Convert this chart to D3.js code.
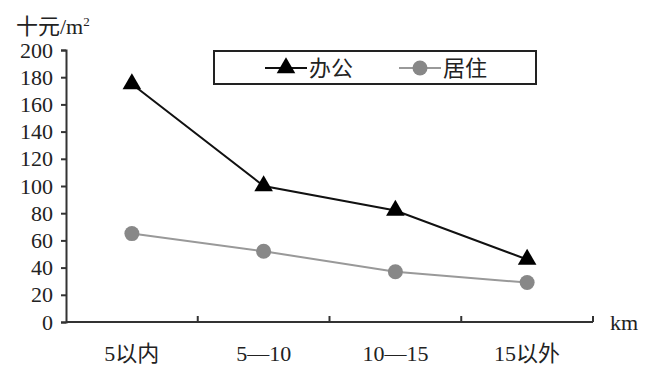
<!DOCTYPE html>
<html>
<head>
<meta charset="utf-8">
<script src="https://cdn.jsdelivr.net/npm/d3@7"></script>
<style>
  body { margin: 0; background: #fff; }
  text { font-family: "Liberation Serif", "Noto Sans CJK SC", serif; fill: #222; }
</style>
</head>
<body>
<svg width="653" height="373"></svg>
<script>
var categories = ["5以内", "5—10", "10—15", "15以外"];
var office = [175, 100, 82, 46];
var residential = [65, 52, 37, 29];
var yTicks = [0, 20, 40, 60, 80, 100, 120, 140, 160, 180, 200];

var svg = d3.select("svg");
var margin = { left: 66, right: 60, top: 50, bottom: 51 };
var width = 653 - margin.left - margin.right,
    height = 373 - margin.top - margin.bottom;

var g = svg.append("g")
    .attr("transform", "translate(" + margin.left + "," + margin.top + ")");

var x = d3.scaleBand().domain(categories).range([0, width]);
var y = d3.scaleLinear().domain([0, 200]).range([height, 0]);

// y axis
var yAxis = g.append("g")
    .call(d3.axisLeft(y).tickValues(yTicks).tickSize(5).tickPadding(8));
yAxis.select(".domain").attr("stroke", "#333").attr("stroke-width", 2);
yAxis.selectAll(".tick line").attr("stroke", "#333").attr("stroke-width", 2);
yAxis.selectAll(".tick text")
    .attr("font-size", 22)
    .attr("font-family", "Liberation Serif")
    .attr("fill", "#222");

// x axis: ticks at category boundaries, pointing up
var xAxis = g.append("g").attr("transform", "translate(0," + height + ")");
xAxis.append("line")
    .attr("x1", 0).attr("x2", width)
    .attr("stroke", "#333").attr("stroke-width", 2);
xAxis.selectAll(".bound")
    .data(categories)
    .enter().append("line")
    .attr("class", "bound")
    .attr("x1", function (d) { return x(d) + x.bandwidth(); })
    .attr("x2", function (d) { return x(d) + x.bandwidth(); })
    .attr("y1", 0).attr("y2", -6)
    .attr("stroke", "#333").attr("stroke-width", 2);
xAxis.selectAll(".lab")
    .data(categories)
    .enter().append("text")
    .attr("class", "lab")
    .attr("x", function (d) { return x(d) + x.bandwidth() / 2; })
    .attr("y", 39)
    .attr("text-anchor", "middle")
    .attr("font-size", 22)
    .text(function (d) { return d; });

xAxis.append("text")
    .attr("x", width + 17)
    .attr("y", 8)
    .attr("font-size", 22)
    .text("km");

// y title
svg.append("text")
    .attr("x", 16)
    .attr("y", 34)
    .attr("font-size", 22)
    .html("十元/m<tspan font-size='13' dy='-8'>2</tspan>");

var cx = function (d, i) { return x(categories[i]) + x.bandwidth() / 2; };
var line = d3.line()
    .x(function (d, i) { return cx(d, i); })
    .y(function (d) { return y(d); });

var tri = d3.symbol().type(d3.symbolTriangle).size(150);

// residential
g.append("path")
    .datum(residential)
    .attr("d", line)
    .attr("fill", "none")
    .attr("stroke", "#999")
    .attr("stroke-width", 2);
g.selectAll(".res")
    .data(residential)
    .enter().append("circle")
    .attr("class", "res")
    .attr("cx", cx)
    .attr("cy", function (d) { return y(d); })
    .attr("r", 7.5)
    .attr("fill", "#888");

// office
g.append("path")
    .datum(office)
    .attr("d", line)
    .attr("fill", "none")
    .attr("stroke", "#111")
    .attr("stroke-width", 2);
g.selectAll(".off")
    .data(office)
    .enter().append("path")
    .attr("class", "off")
    .attr("d", tri)
    .attr("transform", function (d, i) { return "translate(" + cx(d, i) + "," + y(d) + ")"; })
    .attr("fill", "#000");

// legend
var lg = svg.append("g").attr("transform", "translate(214,51)");
lg.append("rect")
    .attr("width", 322).attr("height", 33)
    .attr("fill", "#fff").attr("stroke", "#222").attr("stroke-width", 2);
lg.append("line").attr("x1", 51).attr("x2", 93).attr("y1", 17).attr("y2", 17)
    .attr("stroke", "#111").attr("stroke-width", 2);
lg.append("path").attr("d", tri).attr("transform", "translate(72,17)").attr("fill", "#000");
lg.append("text").attr("x", 95).attr("y", 25).attr("font-size", 22).text("办公");
lg.append("line").attr("x1", 185).attr("x2", 227).attr("y1", 17).attr("y2", 17)
    .attr("stroke", "#999").attr("stroke-width", 2);
lg.append("circle").attr("cx", 206).attr("cy", 17).attr("r", 7.5).attr("fill", "#888");
lg.append("text").attr("x", 229).attr("y", 25).attr("font-size", 22).text("居住");
</script>
</body>
</html>
